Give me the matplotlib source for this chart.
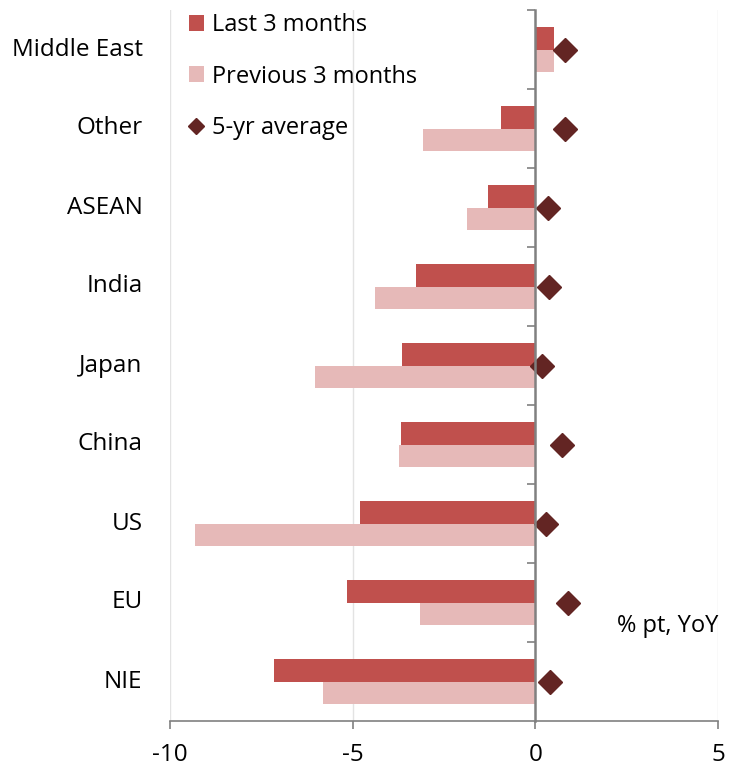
import numpy as np
import matplotlib.pyplot as plt

plt.rcParams['font.family'] = ['Open Sans', 'DejaVu Sans']

regions = ['Middle East', 'Other', 'ASEAN', 'India', 'Japan', 'China', 'US', 'EU', 'NIE']
last_3m = [0.5, -0.93, -1.3, -3.26, -3.64, -3.67, -4.79, -5.15, -7.15]
prev_3m = [0.5, -3.07, -1.86, -4.38, -6.03, -3.73, -9.32, -3.15, -5.81]
avg_5yr = [0.82, 0.8, 0.36, 0.38, 0.19, 0.74, 0.3, 0.9, 0.41]

fig = plt.figure(figsize=(7.46, 7.70), dpi=100)
ax = fig.add_axes([170/746, 49/770, 548/746, 711/770])

y = np.arange(len(regions))
h = 0.285

b1 = ax.barh(y - h/2, last_3m, height=h, color='#C0504D', label='Last 3 months', zorder=2)
b2 = ax.barh(y + h/2, prev_3m, height=h, color='#E6B9B8', label='Previous 3 months', zorder=2)
d, = ax.plot(avg_5yr, y, 'D', color='#632523', ms=12, label='5-yr average', zorder=3)

ax.set_xlim(-10, 5)
ax.set_ylim(len(regions) - 0.5, -0.5)
ax.set_xticks([-10, -5, 0, 5])
ax.set_xticklabels(['-10', '-5', '0', '5'], fontsize=17.5)
ax.tick_params(axis='x', length=6, color='#808080', pad=10, width=1.2)

# vertical gridlines
for gx in [-10, -5, 5]:
    ax.axvline(gx, color='#e3e3e3', lw=1, zorder=0)

for s in ['top', 'right']:
    ax.spines[s].set_visible(False)
ax.spines['bottom'].set_color('#808080')
ax.spines['bottom'].set_linewidth(1.2)
ax.spines['left'].set_position(('data', 0))
ax.spines['left'].set_color('#808080')
ax.spines['left'].set_linewidth(1.8)
ax.spines['left'].set_zorder(4)

# tick marks between categories on the zero axis
ax.set_yticks(np.arange(-0.5, len(regions) - 0.5, 1))
ax.set_yticklabels([])
ax.tick_params(axis='y', length=6, color='#808080', width=1.2)

for i, r in enumerate(regions):
    ax.text(-0.05, i, r, transform=ax.get_yaxis_transform(), ha='right', va='center', fontsize=17.5)

ax.text(5, 7.3, '% pt, YoY', ha='right', va='center', fontsize=17)

ax.legend([b1, b2, d], ['Last 3 months', 'Previous 3 months', '5-yr average'],
          loc='upper left', bbox_to_anchor=(-0.005, 1.025), frameon=False, fontsize=17,
          handlelength=0.65, handleheight=0.65, handletextpad=0.35, labelspacing=1.15,
          markerscale=0.65)

fig.savefig('out.png', dpi=100)
